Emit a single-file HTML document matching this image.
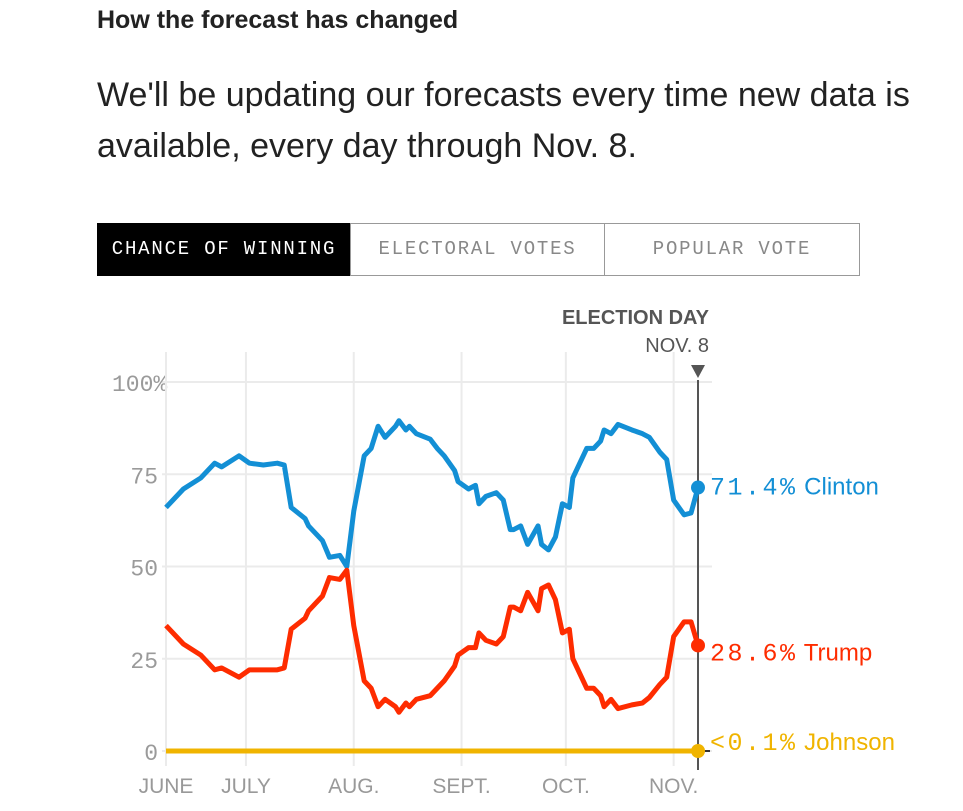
<!DOCTYPE html>
<html><head><meta charset="utf-8">
<style>
body{margin:0;width:963px;height:811px;background:#fff;overflow:hidden;font-family:"Liberation Sans",sans-serif;}
.abs{position:absolute;}
h2{position:absolute;left:97px;top:6px;margin:0;font-size:25px;font-weight:bold;color:#222;}
p.desc{position:absolute;left:97px;top:70px;margin:0;font-size:34px;line-height:51px;color:#222;width:850px;}
.tab{position:absolute;top:223px;height:53px;border:1px solid #999;box-sizing:border-box;font-family:"Liberation Mono",monospace;font-size:19px;letter-spacing:1.8px;color:#888;text-align:center;line-height:51px;}
</style></head>
<body>
<h2>How the forecast has changed</h2>
<p class="desc">We'll be updating our forecasts every time new data is available, every day through Nov. 8.</p>
<div class="tab" style="left:97px;width:254px;background:#000;color:#fff;border-color:#000">CHANCE OF WINNING</div>
<div class="tab" style="left:350px;width:255px">ELECTORAL VOTES</div>
<div class="tab" style="left:604px;width:256px">POPULAR VOTE</div>
<svg id="chart" class="abs" style="left:0;top:0" width="963" height="811"></svg>
<script>
const days=[0,5,10,14,16,21,24,28,32,34,36,40,41,45,47,50,52,54,57,59,61,63,66,67,69,70,72,76,78,80,83,84,87,89,90,92,95,97,99,100,102,104,107,108,110,112,114,116,117,121,123,125,126,128,130,134,137,139,142,144,146,149,151,153];
const clinton=[66,71,74,78,77,80,78,77.5,78,77.5,66,63,61,57,52.5,53,50,65,80,82,88,85,88,89.5,87,88,86,84.5,82,80,76,73,71,72,67,69,70,68,60,60,61,56,61,56,54.5,58,67,66,74,82,82,84,87,86,88.5,87,86,85,81,79,68,64,64.5,71.4];
const trump=[34,29,26,22,22.5,20,22,22,22,22.5,33,36,38,42,47,46.5,49,34,19,17,12,14,12,10.5,13,12,14,15,17,19,23,26,28,28,32,30,29,31,39,39,38,43,38,44,45,41,32,33,25,17,17,15,12,14,11.5,12.5,13,14.5,18,20,31,35,35,28.6];
const johnson=days.map(()=>0);
const yTicks=[0,25,50,75,100];
const months=["JUNE","JULY","AUG.","SEPT.","OCT.","NOV."];
const monthDays=[0,23,54,85,115,146];
const ns="http://www.w3.org/2000/svg";
const svg=document.getElementById('chart');
const X=d=>166+d*(532/153);
const Y=v=>751-v*(369/100);
function mk(t,a,txt){const e=document.createElementNS(ns,t);for(const k in a)e.setAttribute(k,a[k]);if(txt!==undefined)e.textContent=txt;svg.appendChild(e);return e;}
yTicks.forEach(v=>{
 const l=mk('line',{x1:162,x2:712,y1:Y(v),y2:Y(v),stroke:'#ebebeb','stroke-width':2});
 
 
 const t=mk('text',{x:v===100?112:158,y:Y(v)+9,'font-family':'Liberation Mono, monospace','font-size':23,fill:'#9a9a9a','text-anchor':v===100?'start':'end'},v===100?'100%':String(v));
 
 
});
monthDays.forEach((d,i)=>{
 const l=mk('line',{x1:X(d),x2:X(d),y1:352,y2:766,stroke:'#ebebeb','stroke-width':2});
 
 
 const t=mk('text',{x:X(d),y:793,'font-family':'Liberation Sans, sans-serif','font-size':21,fill:'#999','text-anchor':'middle'},months[i]);
 
 
});
let e=mk('text',{x:709,y:324,'font-size':20,'font-weight':'bold',fill:'#555','text-anchor':'end'},'ELECTION DAY');


e=mk('text',{x:709,y:352,'font-size':20,fill:'#555','text-anchor':'end'},'NOV. 8');


e=mk('polygon',{points:'691,365 705,365 698,378',fill:'#555'});


e=mk('line',{x1:698,x2:698,y1:380,y2:770,stroke:'#555','stroke-width':2});


mk('line',{x1:704,x2:710,y1:751,y2:751,stroke:'#333','stroke-width':2});
const series=[[clinton,'#138fd5','clinton'],[trump,'#fe2c00','trump'],[johnson,'#f0b400','johnson']];
series.forEach(([vals,c,n])=>{
 const p=mk('polyline',{points:vals.map((v,i)=>X(days[i])+','+Y(v)).join(' '),fill:'none',stroke:c,'stroke-width':5,'stroke-linejoin':'round'});
 
 
 const last=vals.length-1;
 const dot=mk('circle',{cx:X(days[last]),cy:Y(vals[last]),r:7,fill:c});
 
 
});
const labels=[['71.4%','Clinton','#138fd5',Y(71.4)+7],['28.6%','Trump','#fe2c00',Y(28.6)+15],['<0.1%','Johnson','#f0b400',751-1]];
labels.forEach(([pct,name,c,y])=>{
 const t=mk('text',{x:710,y:y,fill:c,'font-size':25});
 const s1=document.createElementNS(ns,'tspan');s1.setAttribute('font-family','Liberation Mono, monospace');s1.setAttribute('letter-spacing','2.5');s1.textContent=pct;t.appendChild(s1);
 const s2=document.createElementNS(ns,'tspan');s2.setAttribute('font-family','Liberation Sans, sans-serif');s2.setAttribute('font-size','24');s2.textContent=' '+name;t.appendChild(s2);
 
 
});
</script>
</body></html>
